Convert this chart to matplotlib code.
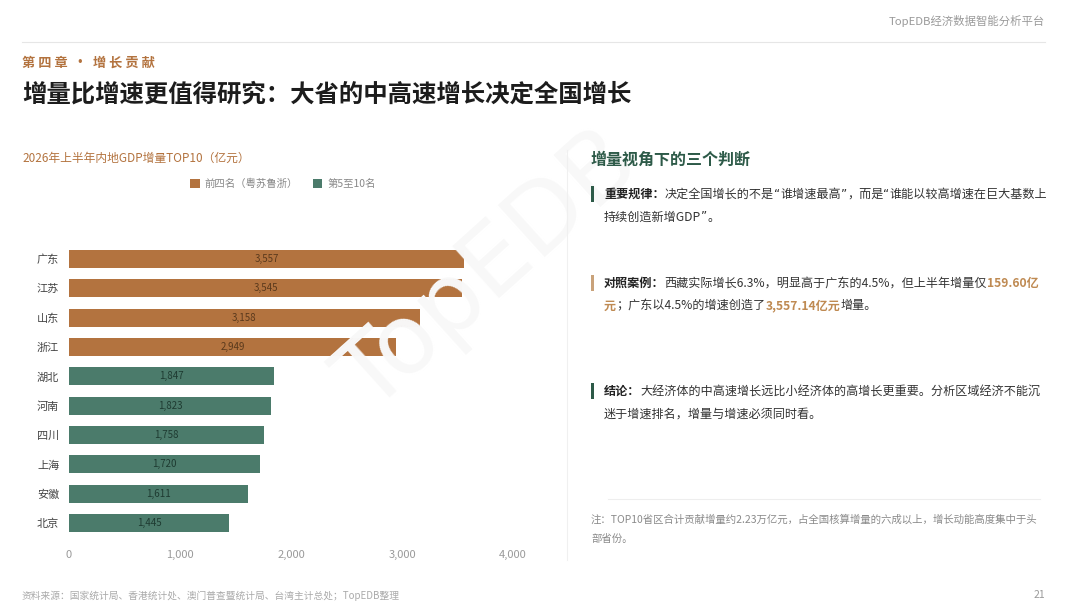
import matplotlib.pyplot as plt
from matplotlib.patches import Patch, Rectangle
from matplotlib.lines import Line2D
from matplotlib.ticker import FuncFormatter

plt.rcParams['font.family'] = ['Noto Sans CJK SC', 'DejaVu Sans']

# data
provinces = ['广东', '江苏', '山东', '浙江', '湖北', '河南', '四川', '上海', '安徽', '北京']
increments = [3557, 3545, 3158, 2949, 1847, 1823, 1758, 1720, 1611, 1445]
is_top4 = [True, True, True, True, False, False, False, False, False, False]
legend_labels = ['前四名（粤苏鲁浙）', '第5至10名']
x_ticks = [0, 1000, 2000, 3000, 4000]

BROWN = '#b3733f'
GREEN = '#4b7b6b'
DARK_GREEN = '#2d5a48'
GRAY = '#9a9a9a'

W, H = 1080, 607
fig = plt.figure(figsize=(W / 100, H / 100), dpi=100)
fig.patch.set_facecolor('white')


def fx(px):
    return px / W


def fy(py):
    return 1 - py / H


# faint watermark behind everything
fig.text(fx(490), fy(272), 'TopEDB', fontsize=70, color='#f8f8f8', rotation=42,
         ha='center', va='center', family='DejaVu Sans', zorder=0)

# header
fig.text(fx(1045), fy(21), 'TopEDB经济数据智能分析平台', fontsize=8.2, color=GRAY,
         ha='right', va='center')
fig.add_artist(Line2D([fx(22), fx(1045)], [fy(42), fy(42)], color='#e6e6e6', lw=0.8))
fig.text(fx(22), fy(63), '第 四 章  ·  增 长 贡 献', fontsize=9.5, color=BROWN,
         fontweight='bold', ha='left', va='center')
fig.text(fx(22), fy(95), '增量比增速更值得研究：大省的中高速增长决定全国增长', fontsize=17.6,
         color='#1c1c1c', fontweight='bold', ha='left', va='center')

# left chart
fig.text(fx(22), fy(158), '2026年上半年内地GDP增量TOP10（亿元）', fontsize=8.5,
         color=BROWN, fontweight='medium', ha='left', va='center')

ax = fig.add_axes([fx(69), fy(537.7), fx(513) - fx(69), fy(235.5) - fy(537.7)])
ax.patch.set_alpha(0)
colors = [BROWN if t else GREEN for t in is_top4]
pos = list(range(len(provinces)))
bars = ax.barh(pos, increments, height=0.62, color=colors, zorder=2)
ax.set_ylim(9.5, -0.8)
ax.set_xlim(0, 4000)
ax.set_yticks(pos)
ax.set_yticklabels(provinces, fontsize=8, color='#444444')
ax.set_xticks(x_ticks)
ax.xaxis.set_major_formatter(FuncFormatter(lambda v, p: f'{int(v):,}'))
ax.tick_params(axis='x', length=0, pad=9, labelsize=8, labelcolor=GRAY)
ax.tick_params(axis='y', length=0, pad=7)
for s in ax.spines.values():
    s.set_visible(False)

label_colors = ['#5a391c' if t else '#1e3b31' for t in is_top4]
for rect, val, lc in zip(bars, increments, label_colors):
    ax.text(val / 2, rect.get_y() + rect.get_height() / 2, f'{val:,}', ha='center',
            va='center', fontsize=7, color=lc, zorder=3)

handles = [Patch(facecolor=BROWN, edgecolor='none'), Patch(facecolor=GREEN, edgecolor='none')]
fig.legend(handles, legend_labels, loc='center', bbox_to_anchor=(fx(283), fy(184)),
           ncol=2, frameon=False, fontsize=7.5, labelcolor='#888888',
           handlelength=0.9, handleheight=0.9, handletextpad=0.5, columnspacing=1.4)

# divider
fig.add_artist(Line2D([fx(567), fx(567)], [fy(150), fy(560)], color='#f0f0f0', lw=0.8))

# right panel
fig.text(fx(591), fy(160), '增量视角下的三个判断', fontsize=11.5, color=DARK_GREEN,
         fontweight='bold', ha='left', va='center')

fig.canvas.draw()
renderer = fig.canvas.get_renderer()


def split_quotes(s):
    # curly quotes are narrow in the reference, so draw them in DejaVu
    parts, buf = [], ''
    for ch in s:
        if ch in '“”':
            if buf:
                parts.append((buf, False))
            parts.append((ch, True))
            buf = ''
        else:
            buf += ch
    if buf:
        parts.append((buf, False))
    return parts


def draw_runs(x, y, runs, size=8.7):
    for s, color, weight in runs:
        for piece, is_quote in split_quotes(s):
            fam = ['DejaVu Sans'] if is_quote else ['Noto Sans CJK SC', 'DejaVu Sans']
            t = fig.text(fx(x), fy(y), piece, fontsize=size, color=color, fontweight=weight,
                         ha='left', va='center', family=fam)
            x += t.get_window_extent(renderer).width


TXT = '#333333'
HL = '#bf8a52'
blocks = [
    (194, DARK_GREEN, [
        [('重要规律：', '#222222', 'bold'),
         ('决定全国增长的不是“谁增速最高”，而是“谁能以较高增速在巨大基数上', TXT, 'normal')],
        [('持续创造新增GDP”。', TXT, 'normal')],
    ]),
    (283, '#c9a27a', [
        [('对照案例：', '#222222', 'bold'),
         ('西藏实际增长6.3%，明显高于广东的4.5%，但上半年增量仅', TXT, 'normal'),
         ('159.60亿', HL, 'bold')],
        [('元', HL, 'bold'), ('；广东以4.5%的增速创造了', TXT, 'normal'),
         ('3,557.14亿元', HL, 'bold'), ('增量。', TXT, 'normal')],
    ]),
    (391, DARK_GREEN, [
        [('结论：', '#222222', 'bold'),
         ('大经济体的中高速增长远比小经济体的高增长更重要。分析区域经济不能沉', TXT, 'normal')],
        [('迷于增速排名，增量与增速必须同时看。', TXT, 'normal')],
    ]),
]
for y0, bar_color, lines in blocks:
    fig.add_artist(Rectangle((fx(591), fy(y0 + 8)), fx(3), fy(y0 - 8) - fy(y0 + 8),
                             color=bar_color, lw=0))
    for i, runs in enumerate(lines):
        draw_runs(604, y0 + i * 23, runs)

fig.add_artist(Line2D([fx(608), fx(1040)], [fy(499), fy(499)], color='#eeeeee', lw=0.8))
fig.text(fx(591), fy(520), '注：TOP10省区合计贡献增量约2.23万亿元，占全国核算增量的六成以上，增长动能高度集中于头',
         fontsize=7.5, color='#8a8a8a', ha='left', va='center')
fig.text(fx(591), fy(539), '部省份。', fontsize=7.5, color='#8a8a8a', ha='left', va='center')

# footer
fig.text(fx(22), fy(596), '资料来源：国家统计局、香港统计处、澳门普查暨统计局、台湾主计总处；TopEDB整理',
         fontsize=7, color='#aaaaaa', ha='left', va='center')
fig.text(fx(1045), fy(595), '21', fontsize=7.5, color=GRAY, ha='right', va='center')

fig.savefig('out.png', dpi=100, facecolor='white')
